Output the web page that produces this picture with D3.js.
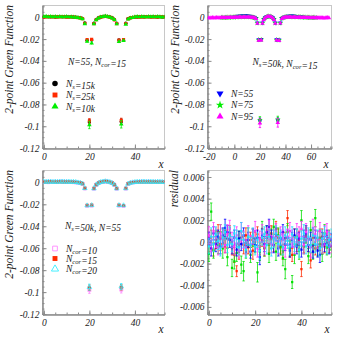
<!DOCTYPE html>
<meta charset="utf-8">
<style>
body { margin: 0; background: #fff; }
</style>
<body>
<script src="https://cdn.jsdelivr.net/npm/d3@7"></script>
<script>

////*Data (all values and errors in units of 1e-4)*////
const UNIT = 1e-4;

// top left: N=55, Ncor=15, different Ns
const g15k = [4,6,5,5,4,3,5,6,5,6, 5,4,5,3,1,-1,-4,-11,-52,-210, -962,-208,-55,-20,-5,3,7,9,7,3,
              -5,-20,-55,-208,-958,-212,-54,-12,-4,-1, 1,3,5,4,5,6,5,4,5,4, 3,4,3,4,3];
const g25k = [2,3,5,4,6,2,3,4,6,3, 2,1,3,2,-1,-3,-6,-13,-55,-205, -952,-203,-58,-23,-7,1,5,8,6,2,
              -7,-24,-58,-210,-948,-205,-57,-15,-6,-2, 2,3,2,4,1,3,5,2,3,4, 2,5,3,2,3];
const g10k = [5,8,4,7,3,5,2,6,4,3, 6,2,4,1,-2,-3,-8,-15,-60,-222, -988,-238,-62,-25,-9,2,6,10,5,1,
              -8,-22,-62,-225,-982,-215,-65,-18,-7,-3, 3,5,2,6,4,2,6,3,5,2, 6,4,1,3,4];
const e15k = [2,2,2,2,2,2,2,2,2,2, 2,2,2,2,2,2,2,3,5,9, 26,9,5,3,2,2,2,2,2,2,
              2,3,5,9,26,9,5,3,2,2, 2,2,2,2,2,2,2,2,2,2, 2,2,2,2,2];
const e25k = [2,2,2,2,2,2,2,2,2,2, 2,2,2,2,2,2,2,3,4,8, 22,8,4,3,2,2,2,2,2,2,
              2,3,4,8,22,8,4,3,2,2, 2,2,2,2,2,2,2,2,2,2, 2,2,2,2,2];
const e10k = [3,3,3,3,3,3,3,3,3,3, 3,3,3,3,3,3,3,4,6,12, 34,12,6,4,3,3,3,3,3,3,
              3,4,6,12,34,12,6,4,3,3, 3,3,3,3,3,3,3,3,3,3, 3,3,3,3,3];

// top right: Ns=50k, Ncor=15, different N (lattice starts at 0, -10, -20)
const n55 = [5,7,9,10,12,11,13,14,12,15, 13,11,12,9,6,2,-2,-9,-50,-205, -950,-203,-52,-18,-3,5,9,11,9,5,
             -3,-18,-52,-205,-948,-207,-51,-10,-2,2, 5,8,10,12,11,13,12,10,9,8, 6,7,5,4,3];
const n75 = [-3,-2,-4,-1,-3,0,-2,1,-1,2, 0,3,1,4,2,3,5,2,4,3, 4,3,2,3,0,-2,-5,-11,-54,-207,
             -942,-206,-54,-20,-5,3,7,9,7,4, -5,-20,-54,-207,-938,-209,-53,-11,-4,0, 2,4,3,5,3,4,2,4,3,2,
             3,1,2,0,1,-1,0,-2,-1,-3, -2,-4,-2,-3,-4];
const n95 = [-6,-5,-7,-4,-6,-5,-3,-5,-4,-6, -3,-4,-2,-5,-3,-2,-4,-1,-3,-2, 0,-1,1,0,2,1,0,2,1,2,
             1,2,0,1,-1,-3,-6,-12,-56,-212, -972,-210,-57,-22,-6,2,6,8,6,2, -6,-21,-56,-210,-968,-214,-55,-13,-5,-2,
             0,1,2,1,2,0,1,1,0,-1, 0,-2,-1,-3,-2,-3,-4,-2,-5,-3, -4,-6,-4,-5,-3,-6,-5,-4,-6,-5, -7,-5,-6,-4,-6];
const en55 = [2,2,2,2,2,2,2,2,2,2, 2,2,2,2,2,2,2,3,4,8, 25,8,4,3,2,2,2,2,2,2,
              2,3,4,8,25,8,4,3,2,2, 2,2,2,2,2,2,2,2,2,2, 2,2,2,2,2];
const en75 = [2,2,2,2,2,2,2,2,2,2, 2,2,2,2,2,2,2,2,2,2, 2,2,2,2,2,2,2,3,5,9,
              30,9,5,3,2,2,2,2,2,2, 2,3,5,9,30,9,5,3,2,2, 2,2,2,2,2,2,2,2,2,2,
              2,2,2,2,2,2,2,2,2,2, 2,2,2,2,2];
const en95 = [3,3,3,3,3,3,3,3,3,3, 3,3,3,3,3,3,3,3,3,3, 3,3,3,3,3,3,3,3,3,3,
              3,3,3,3,3,3,3,4,6,12, 40,12,6,4,3,3,3,3,3,3, 3,4,6,12,40,12,6,4,3,3,
              3,3,3,3,3,3,3,3,3,3, 3,3,3,3,3,3,3,3,3,3, 3,3,3,3,3,3,3,3,3,3, 3,3,3,3,3];

// bottom left: Ns=50k, N=55, different Ncor
const c10 = [3,5,2,6,4,5,3,6,7,4, 5,3,4,2,0,-3,-6,-13,-56,-214, -982,-212,-58,-22,-7,2,5,8,6,1,
             -7,-22,-58,-212,-978,-215,-57,-14,-5,-1, 2,4,3,6,5,4,6,3,5,4, 3,5,4,2,3];
const c15 = [4,5,5,6,4,4,5,6,5,5, 4,4,5,3,1,-1,-4,-11,-53,-209, -960,-207,-55,-20,-5,3,7,9,7,3,
             -5,-20,-55,-208,-956,-211,-54,-12,-4,-1, 1,3,5,4,5,5,5,4,5,4, 3,4,3,4,3];
const c20 = [5,4,6,5,3,5,4,5,6,5, 4,5,3,4,2,-2,-5,-12,-54,-211, -955,-209,-56,-21,-6,2,6,9,7,2,
             -6,-21,-56,-209,-950,-210,-55,-13,-5,-1, 2,4,4,5,6,4,5,5,4,3, 5,4,3,2,4];
const ec10 = [2,2,2,2,2,2,2,2,2,2, 2,2,2,2,2,2,2,3,5,9, 30,9,5,3,2,2,2,2,2,2,
              2,3,5,9,30,9,5,3,2,2, 2,2,2,2,2,2,2,2,2,2, 2,2,2,2,2];
const ec15 = [2,2,2,2,2,2,2,2,2,2, 2,2,2,2,2,2,2,3,4,8, 25,8,4,3,2,2,2,2,2,2,
              2,3,4,8,25,8,4,3,2,2, 2,2,2,2,2,2,2,2,2,2, 2,2,2,2,2];
const ec20 = [2,2,2,2,2,2,2,2,2,2, 2,2,2,2,2,2,2,3,5,9, 28,9,5,3,2,2,2,2,2,2,
              2,3,5,9,28,9,5,3,2,2, 2,2,2,2,2,2,2,2,2,2, 2,2,2,2,2];

// bottom right: residuals
const resRed = [-3,4,-7,2,9,-2,5,-4,3,8, -6,-12,-27,-9,4,-3,6,-5,2,-8, 3,7,-4,2,-6,5,-2,8,-3,12,
                4,-5,-9,3,22,-6,-12,5,-3,2, -25,-4,6,-3,-17,4,-6,3,-2,5, -4,2,-3,1,-2];
const resGreen = [-11,28,-8,5,-3,9,-6,4,-14,6, -24,-18,-10,3,-21,-27,-8,5,-12,4, -3,-28,-9,12,-5,8,-11,3,14,-9,
                  6,-4,-15,-25,9,-6,-37,-12,5,-8, 20,-4,7,-13,11,-9,22,-6,4,-11, 8,-5,3,-7,2];
const resBlue = [3,-6,8,-2,5,-4,6,13,9,2, -5,4,-7,3,-2,6,-4,2,-9,5, -3,4,-14,6,-2,9,14,5,-3,7,
                 -6,3,9,-2,4,-8,2,6,-4,3, -7,5,8,-3,2,-9,4,-8,-12,3, -2,5,-4,2,-1];
const resMagenta = [6,-2,10,4,-5,8,3,-3,7,12, 2,-4,6,-8,9,2,-5,7,-2,5, 10,-6,3,8,-4,6,11,-2,4,9,
                    -3,7,2,-6,5,10,3,-4,8,6, 12,-3,9,4,-5,13,7,2,10,-4, 6,9,3,-2,5];
const resCyan = [-4,5,-2,7,1,-6,4,9,-3,6, -2,8,3,-5,10,2,-7,5,-3,6, -4,2,-8,4,7,-3,5,-6,3,8,
                 -2,4,-5,6,1,-4,7,-2,4,-7, 3,8,-4,5,-3,6,-2,4,-6,3, 7,-3,2,5,-1];
const errRed = [6,7,6,8,7,6,7,6,8,7, 6,7,5,7,6,8,7,6,7,8, 6,7,8,6,7,6,8,7,6,7,
                8,6,7,6,7,8,6,7,6,8, 7,6,7,6,7,8,6,7,6,7, 6,8,7,6,7];
const errGreen = [7,8,7,6,8,7,9,7,8,7, 8,7,8,7,8,9,7,8,7,8, 7,9,8,7,8,7,8,9,7,8,
                  7,8,7,9,8,7,6,8,7,8, 9,7,8,7,8,7,8,7,8,7, 8,7,8,7,8];
const errBlue = [6,7,6,7,6,7,7,8,6,7, 6,7,6,7,6,7,6,7,6,7, 6,7,7,6,7,6,7,6,7,6,
                 7,6,7,6,7,6,7,6,7,6, 7,6,7,6,7,6,7,6,7,6, 7,6,7,6,7];
const errMagenta = [8,7,8,9,7,8,8,7,9,8, 7,8,8,7,9,8,7,8,8,7, 9,8,7,8,8,7,9,8,7,8,
                    8,7,9,8,7,8,8,7,9,8, 7,8,8,7,9,8,7,8,8,7, 9,8,7,8,8];
const errCyan = [7,8,7,7,8,7,8,7,7,8, 7,7,8,7,8,7,7,8,7,7, 8,7,8,7,7,8,7,7,8,7,
                 8,7,7,8,7,8,7,7,8,7, 7,8,7,8,7,7,8,7,7,8, 7,8,7,7,8];

////*Set-up*////
const FONT = '"Liberation Serif", "DejaVu Serif", serif';
const fmt = v => String(+v.toFixed(5));

const svg = d3.select("body").append("svg")
   .attr("width", 339)
   .attr("height", 339)
   .style("display", "block")
   .style("background", "white");

const panels = [
   {left: 42.5, right: 164.5, top: 5.5, bottom: 148.5, xDom: [-0.6, 53], yDom: [-0.1204, 0.0108],
    xMaj: 20, xMin: 5, yMaj: 0.02, yMin: 0.005, title: "2-point Green Function", titleX: 9, xTitle: [161, 168]},
   {left: 207.5, right: 331.5, top: 5.5, bottom: 148.5, xDom: [-21, 76], yDom: [-0.1204, 0.0108],
    xMaj: 20, xMin: 5, yMaj: 0.02, yMin: 0.005, title: "2-point Green Function", titleX: 175, xTitle: [326, 168]},
   {left: 42.5, right: 164.5, top: 170.5, bottom: 314.5, xDom: [-0.6, 53], yDom: [-0.1204, 0.0108],
    xMaj: 20, xMin: 5, yMaj: 0.02, yMin: 0.005, title: "2-point Green Function", titleX: 9, xTitle: [161, 333]},
   {left: 207.5, right: 331.5, top: 170.5, bottom: 314.5, xDom: [-0.6, 53], yDom: [-0.0067, 0.0066],
    xMaj: 20, xMin: 5, yMaj: 0.002, yMin: 0.0005, title: "residual", titleX: 174, xTitle: [327, 333]}
];

function tickRange(lo, hi, step) {
   return d3.range(Math.ceil(lo / step - 1e-9), Math.floor(hi / step + 1e-9) + 1).map(k => +(k * step).toFixed(6));
}

// draws the frame and both axes, returns a group clipped to the frame
function drawFrame(p, i) {
   p.x = d3.scaleLinear().domain(p.xDom).range([p.left, p.right]);
   p.y = d3.scaleLinear().domain(p.yDom).range([p.bottom, p.top]);

   svg.append("clipPath").attr("id", "clip" + i)
      .append("rect")
      .attr("x", p.left).attr("y", p.top)
      .attr("width", p.right - p.left).attr("height", p.bottom - p.top);

   svg.append("rect")
      .attr("x", p.left).attr("y", p.top)
      .attr("width", p.right - p.left).attr("height", p.bottom - p.top)
      .attr("fill", "none").attr("stroke", "#c8c8c8");

   const xMajor = tickRange(p.xDom[0], p.xDom[1], p.xMaj);
   const xMinor = tickRange(p.xDom[0], p.xDom[1], p.xMin);
   const yMajor = tickRange(p.yDom[0], p.yDom[1], p.yMaj);
   const yMinor = tickRange(p.yDom[0], p.yDom[1], p.yMin);

   const axes = [
      [d3.axisBottom(p.x).tickValues(xMinor).tickSize(-2).tickFormat(""), `translate(0,${p.bottom})`],
      [d3.axisBottom(p.x).tickValues(xMajor).tickSize(-4).tickPadding(5).tickSizeOuter(0).tickFormat(fmt), `translate(0,${p.bottom})`],
      [d3.axisLeft(p.y).tickValues(yMinor).tickSize(-2).tickFormat(""), `translate(${p.left},0)`],
      [d3.axisLeft(p.y).tickValues(yMajor).tickSize(-4).tickPadding(3).tickSizeOuter(0).tickFormat(fmt), `translate(${p.left},0)`]
   ];
   axes.forEach(([ax, tr]) => {
      const g = svg.append("g").attr("transform", tr).call(ax);
      g.select(".domain").attr("stroke", "#8a8a8a");
      g.selectAll(".tick line").attr("stroke", "#8a8a8a");
      g.selectAll("text")
         .attr("font-family", FONT)
         .attr("font-style", "italic")
         .attr("font-size", 9.5)
         .attr("fill", "#222");
   });

   svg.append("text")
      .attr("transform", `translate(${p.titleX},${p.top - 0.5}) rotate(-90)`)
      .attr("text-anchor", "end")
      .attr("dy", "0.35em")
      .attr("font-family", FONT).attr("font-style", "italic")
      .attr("font-size", 11.5).attr("fill", "#222")
      .text(p.title);

   svg.append("text")
      .attr("x", p.xTitle[0]).attr("y", p.xTitle[1])
      .attr("text-anchor", "middle")
      .attr("font-family", FONT).attr("font-style", "italic")
      .attr("font-size", 11.5).attr("fill", "#222")
      .text("x");

   return svg.append("g").attr("clip-path", `url(#clip${i})`);
}

function markerPath(st, size) {
   return d3.symbol(st.type, size)();
}

function drawSeries(g, p, vals, errs, x0, st) {
   const pts = vals.map((v, i) => ({x: x0 + i, v: v * UNIT, e: (errs[i] || 0) * UNIT}));
   const capped = pts.filter(d => p.y(d.v - d.e) - p.y(d.v + d.e) > 3);
   const eb = g.append("g").attr("stroke", st.color).attr("stroke-width", 0.8).attr("fill", "none");
   eb.selectAll("line.bar").data(pts).join("line")
      .attr("x1", d => p.x(d.x)).attr("x2", d => p.x(d.x))
      .attr("y1", d => p.y(d.v - d.e)).attr("y2", d => p.y(d.v + d.e));
   eb.selectAll("line.lo").data(capped).join("line")
      .attr("x1", d => p.x(d.x) - 1.2).attr("x2", d => p.x(d.x) + 1.2)
      .attr("y1", d => p.y(d.v - d.e)).attr("y2", d => p.y(d.v - d.e));
   eb.selectAll("line.hi").data(capped).join("line")
      .attr("x1", d => p.x(d.x) - 1.2).attr("x2", d => p.x(d.x) + 1.2)
      .attr("y1", d => p.y(d.v + d.e)).attr("y2", d => p.y(d.v + d.e));
   g.append("g").selectAll("path").data(pts).join("path")
      .attr("d", markerPath(st, st.size))
      .attr("transform", d => `translate(${p.x(d.x)},${p.y(d.v)})${st.flip ? " rotate(180)" : ""}`)
      .attr("fill", st.open ? "none" : st.color)
      .attr("stroke", st.open ? st.color : "none")
      .attr("stroke-width", 0.8);
}

// text with subscript parts: [["N"], ["s", true], ["=15k"]]
function richText(xPos, yPos, parts, size) {
   const t = svg.append("text")
      .attr("x", xPos).attr("y", yPos)
      .attr("font-family", FONT).attr("font-style", "italic")
      .attr("font-size", size).attr("fill", "#222");
   parts.forEach(([s, sub]) => {
      if (sub) {
         t.append("tspan").attr("dy", 2).attr("font-size", size * 0.7).text(s);
         t.append("tspan").attr("dy", -2).text("");
      } else {
         t.append("tspan").text(s);
      }
   });
}

function legend(xPos, ys, styles, labels) {
   styles.forEach((st, i) => {
      svg.append("path")
         .attr("d", markerPath(st, st.legSize))
         .attr("transform", `translate(${xPos},${ys[i]})${st.flip ? " rotate(180)" : ""}`)
         .attr("fill", st.open ? "none" : st.color)
         .attr("stroke", st.open ? st.color : "none")
         .attr("stroke-width", 0.9);
      richText(xPos + 11, ys[i] + 3.2, labels[i], 9.5);
   });
}

////*Rendering*////
const groups = panels.map(drawFrame);

// panel 1
const st15k = {type: d3.symbolCircle, color: "#000000", size: 9, legSize: 24};
const st25k = {type: d3.symbolSquare, color: "#ff2a00", size: 10, legSize: 24};
const st10k = {type: d3.symbolTriangle, color: "#00ee00", size: 9, legSize: 22};
drawSeries(groups[0], panels[0], g15k, e15k, 0, st15k);
drawSeries(groups[0], panels[0], g25k, e25k, 0, st25k);
drawSeries(groups[0], panels[0], g10k, e10k, 0, st10k);
richText(68, 65, [["N=55, N"], ["cor", true], ["=15"]], 9.5);
legend(55, [83.5, 95, 106.5], [st15k, st25k, st10k],
   [[["N"], ["s", true], ["=15k"]], [["N"], ["s", true], ["=25k"]], [["N"], ["s", true], ["=10k"]]]);

// panel 2
const st55 = {type: d3.symbolTriangle, color: "#0000ff", size: 9, legSize: 22, flip: true};
const st75 = {type: d3.symbolStar, color: "#00ee00", size: 10, legSize: 22};
const st95 = {type: d3.symbolTriangle, color: "#ff00ff", size: 9, legSize: 22};
drawSeries(groups[1], panels[1], n55, en55, 0, st55);
drawSeries(groups[1], panels[1], n75, en75, -10, st75);
drawSeries(groups[1], panels[1], n95, en95, -20, st95);
richText(252.5, 65, [["N"], ["s", true], ["=50k, N"], ["cor", true], ["=15"]], 9.5);
legend(220, [93.5, 105, 116.5], [st55, st75, st95],
   [[["N=55"]], [["N=75"]], [["N=95"]]]);

// panel 3
const stc10 = {type: d3.symbolSquare, color: "#ff88ff", size: 9, legSize: 22, open: true};
const stc15 = {type: d3.symbolSquare, color: "#ff2a00", size: 10, legSize: 24};
const stc20 = {type: d3.symbolTriangle, color: "#33eeff", size: 9, legSize: 22, open: true};
drawSeries(groups[2], panels[2], c10, ec10, 0, stc10);
drawSeries(groups[2], panels[2], c15, ec15, 0, stc15);
drawSeries(groups[2], panels[2], c20, ec20, 0, stc20);
richText(65, 228.5, [["N"], ["s", true], ["=50k, N=55"]], 9.5);
legend(55, [248.5, 258.5, 269], [stc10, stc15, stc20],
   [[["N"], ["cor", true], ["=10"]], [["N"], ["cor", true], ["=15"]], [["N"], ["cor", true], ["=20"]]]);

// panel 4
const resSeries = [
   [resRed, errRed, "#ff2a00"],
   [resGreen, errGreen, "#00e000"],
   [resBlue, errBlue, "#0000ff"],
   [resMagenta, errMagenta, "#ff33ff"],
   [resCyan, errCyan, "#22ddff"]
];
resSeries.forEach(([vals, errs, col]) => {
   drawSeries(groups[3], panels[3], vals, errs, 0, {type: d3.symbolSquare, color: col, size: 5});
});

</script>
</body>
